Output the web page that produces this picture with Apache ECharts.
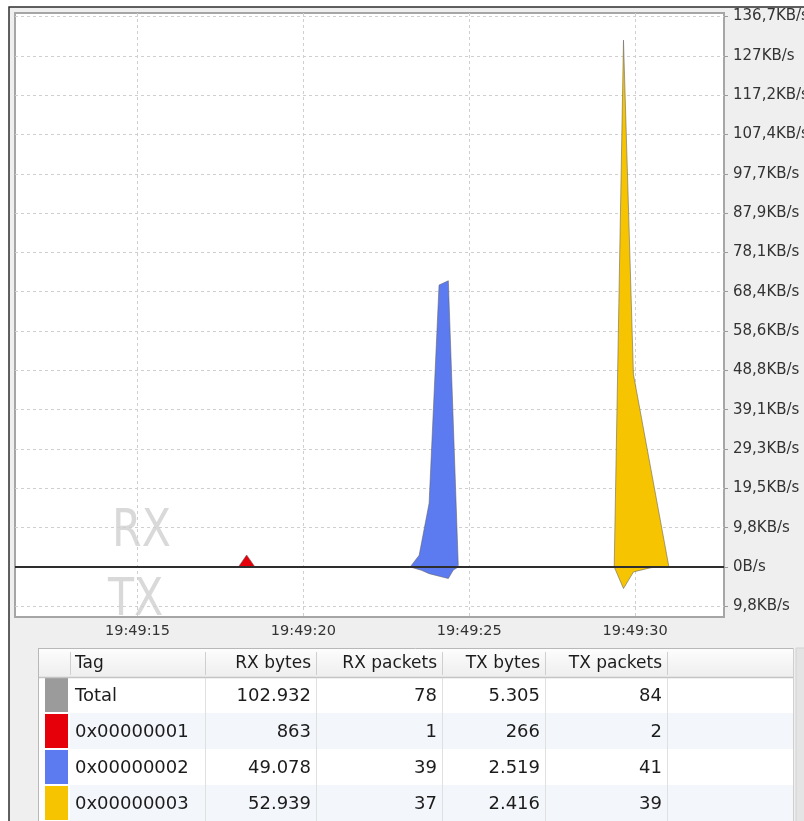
<!DOCTYPE html>
<html>
<head>
<meta charset="utf-8">
<script src="https://cdn.jsdelivr.net/npm/echarts@6/dist/echarts.min.js"></script>
<style>
html,body{margin:0;padding:0;background:#ffffff;}
#chart{width:804px;height:821px;}
</style>
</head>
<body>
<div id="chart"></div>
<script>
// ---- data ----
const xTickSeconds = [15, 20, 25, 30];            // seconds after 19:49:00
const xTickLabels = ['19:49:15', '19:49:20', '19:49:25', '19:49:30'];
const yTickValues = [-10000, 0, 10000, 20000, 30000, 40000, 50000, 60000, 70000, 80000, 90000, 100000, 110000, 120000, 130000, 140000];
const yTickLabels = ['9,8KB/s', '0B/s', '9,8KB/s', '19,5KB/s', '29,3KB/s', '39,1KB/s', '48,8KB/s', '58,6KB/s', '68,4KB/s', '78,1KB/s', '87,9KB/s', '97,7KB/s', '107,4KB/s', '117,2KB/s', '127KB/s', '136,7KB/s'];

// [seconds, bytes/s] ; RX above zero, TX below zero
const tag1Rx = [[18.04, 0], [18.29, 3040], [18.54, 0]];
const tag1Tx = [[17.98, 0], [18.04, -450], [18.12, 0]];
const tag2Rx = [[23.22, 0], [23.49, 2980], [23.79, 16200], [24.09, 71700], [24.37, 72800], [24.67, 300]];
const tag2Tx = [[23.22, 0], [23.56, -850], [23.79, -1700], [24.37, -2950], [24.52, -800], [24.67, 0]];
const tag3Rx = [[29.37, 0], [29.65, 134000], [29.95, 49000], [31.02, 0]];
const tag3Tx = [[29.37, 0], [29.65, -5500], [29.95, -1270], [30.45, -250], [30.63, 0]];

const tableHeaders = ['Tag', 'RX bytes', 'RX packets', 'TX bytes', 'TX packets'];
const tags = ['Total', '0x00000001', '0x00000002', '0x00000003'];
const rxBytes = ['102.932', '863', '49.078', '52.939'];
const rxPackets = ['78', '1', '39', '37'];
const txBytes = ['5.305', '266', '2.519', '2.416'];
const txPackets = ['84', '2', '41', '39'];
const tagColors = ['#9b9b9b', '#e6000a', '#5d7bf1', '#f6c400'];

// ---- layout ----
const FONT = 'DejaVu Sans, Verdana, sans-serif';
const plot = {l: 15, t: 13, r: 724, b: 617};
const g = [];
g.push({type: 'rect', z: -20, shape: {x: 9, y: 7, width: 800, height: 820},
  style: {fill: '#efefef', stroke: '#2e2e2e', lineWidth: 1.5}});
g.push({type: 'rect', z: -10, shape: {x: plot.l, y: plot.t, width: plot.r - plot.l, height: plot.b - plot.t},
  style: {fill: '#ffffff'}});
g.push({type: 'text', z: -9, x: 112, y: 532, scaleX: 0.82, originX: 0, originY: 0,
  style: {text: 'RX', font: '52px ' + FONT, fill: '#d9d9d9', align: 'left', verticalAlign: 'middle'}});
g.push({type: 'text', z: -9, x: 108, y: 601, scaleX: 0.82, originX: 0, originY: 0,
  style: {text: 'TX', font: '52px ' + FONT, fill: '#d9d9d9', align: 'left', verticalAlign: 'middle'}});
g.push({type: 'rect', z: -8, shape: {x: 10, y: 618, width: 794, height: 30}, style: {fill: '#efefef'}});

// table
const colEdges = [38, 70, 205, 316, 442, 545, 667, 793];
const headTop = 649, headBot = 677, rowH = 36;
const tableBottom = 821;
g.push({type: 'rect', z: -7, shape: {x: 38, y: 648, width: 755, height: tableBottom - 648}, style: {fill: '#ffffff'}});
g.push({type: 'rect', z: -7, shape: {x: 38, y: headTop, width: 755, height: headBot - headTop},
  style: {fill: {type: 'linear', x: 0, y: 0, x2: 0, y2: 1, colorStops: [{offset: 0, color: '#fdfdfd'}, {offset: 1, color: '#eeeeee'}]}}});
for (let i = 0; i < tags.length; i++) {
  const y0 = headBot + i * rowH;
  if (i % 2 === 1) {
    g.push({type: 'rect', z: -6, shape: {x: colEdges[1], y: y0, width: colEdges[7] - colEdges[1], height: rowH}, style: {fill: '#f3f6fa'}});
  }
  g.push({type: 'rect', z: -5, shape: {x: 45, y: y0 + 1, width: 23, height: rowH - 2}, style: {fill: tagColors[i]}});
}
// lines
g.push({type: 'line', z: -4, shape: {x1: 38, y1: 648.5, x2: 793, y2: 648.5}, style: {stroke: '#b8b8b8', lineWidth: 1}});
g.push({type: 'line', z: -4, shape: {x1: 38, y1: headBot + 0.5, x2: 793, y2: headBot + 0.5}, style: {stroke: '#c4c4c4', lineWidth: 1.5}});
g.push({type: 'line', z: -4, shape: {x1: 38.5, y1: 648, x2: 38.5, y2: 821}, style: {stroke: '#b8b8b8', lineWidth: 1}});
g.push({type: 'line', z: -4, shape: {x1: 793.5, y1: 648, x2: 793.5, y2: 821}, style: {stroke: '#cfcfcf', lineWidth: 1}});
g.push({type: 'rect', z: -4, shape: {x: 796, y: 648, width: 10, height: 175}, style: {fill: '#e4e4e4', stroke: '#d2d2d2', lineWidth: 1}});
for (let c = 1; c < colEdges.length - 1; c++) {
  g.push({type: 'line', z: -4, shape: {x1: colEdges[c] + 0.5, y1: headTop + 3, x2: colEdges[c] + 0.5, y2: headBot - 2}, style: {stroke: '#cfcfcf', lineWidth: 1}});
  if (c >= 2) {
    g.push({type: 'line', z: -4, shape: {x1: colEdges[c] + 0.5, y1: headBot + 1, x2: colEdges[c] + 0.5, y2: tableBottom}, style: {stroke: '#e0e0e0', lineWidth: 1}});
  }
}
// header texts
const headY = 664;
g.push({type: 'text', z: -3, x: 75, y: headY, style: {text: tableHeaders[0], font: '17px ' + FONT, fill: '#1c1c1c', align: 'left', verticalAlign: 'middle'}});
for (let c = 1; c < tableHeaders.length; c++) {
  g.push({type: 'text', z: -3, x: colEdges[c + 2] - 5, y: headY, style: {text: tableHeaders[c], font: '17px ' + FONT, fill: '#1c1c1c', align: 'right', verticalAlign: 'middle'}});
}
const cols = [rxBytes, rxPackets, txBytes, txPackets];
for (let i = 0; i < tags.length; i++) {
  const yc = headBot + i * rowH + rowH / 2 + 1;
  g.push({type: 'text', z: -3, x: 75, y: yc, style: {text: tags[i], font: '18px ' + FONT, fill: '#1c1c1c', align: 'left', verticalAlign: 'middle'}});
  for (let c = 0; c < cols.length; c++) {
    g.push({type: 'text', z: -3, x: colEdges[c + 3] - 5, y: yc, style: {text: cols[c][i], font: '18px ' + FONT, fill: '#1c1c1c', align: 'right', verticalAlign: 'middle'}});
  }
}

const split = {show: true, lineStyle: {color: '#cfcfcf', width: 1, type: [3, 3]}};
const outline = {color: 'rgba(95,95,95,0.55)', width: 1};
function areaSeries(data, color) {
  return {type: 'line', data: data, symbol: 'none', lineStyle: outline, areaStyle: {color: color, opacity: 1}, z: 2, silent: true};
}
const series = [
  areaSeries(tag1Rx, tagColors[1]), areaSeries(tag1Tx, tagColors[1]),
  areaSeries(tag2Rx, tagColors[2]), areaSeries(tag2Tx, tagColors[2]),
  areaSeries(tag3Rx, tagColors[3]), areaSeries(tag3Tx, tagColors[3]),
  {type: 'line', data: [], z: 5, silent: true,
   markLine: {silent: true, symbol: 'none', animation: false, label: {show: false},
     lineStyle: {color: '#2e2e2e', width: 2, type: 'solid'}, data: [{yAxis: 0}]}}
];

const chart = echarts.init(document.getElementById('chart'), null, {renderer: 'canvas'});
chart.setOption({
  animation: false,
  graphic: {elements: g},
  grid: {left: plot.l, top: plot.t, right: 804 - plot.r, bottom: 821 - plot.b, show: true,
    backgroundColor: 'transparent', borderColor: '#a6a6a6', borderWidth: 2, containLabel: false,
    outerBoundsMode: 'none'},
  xAxis: {type: 'value', min: 11.307, max: 32.68,
    axisLine: {show: false},
    axisTick: {show: false, customValues: xTickSeconds},
    splitLine: split,
    axisLabel: {customValues: xTickSeconds, margin: 7, color: '#333', fontSize: 14.5, fontFamily: FONT,
      formatter: function (v) { const i = xTickSeconds.indexOf(v); return i >= 0 ? xTickLabels[i] : ''; }}},
  yAxis: {type: 'value', position: 'right', min: -12730, max: 140900,
    axisLine: {show: false},
    axisTick: {show: true, inside: false, length: 4, customValues: yTickValues, lineStyle: {color: '#9a9a9a'}},
    splitLine: split,
    axisLabel: {customValues: yTickValues, margin: 9, color: '#333', fontSize: 15, fontFamily: FONT,
      formatter: function (v) { const i = yTickValues.indexOf(v); return i >= 0 ? yTickLabels[i] : ''; }}},
  series: series
});
</script>
</body>
</html>
